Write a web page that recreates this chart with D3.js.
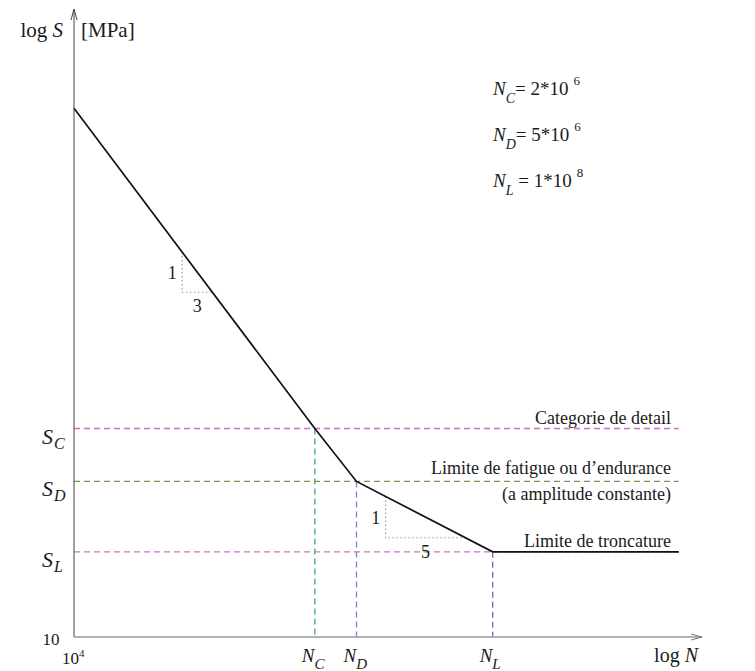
<!DOCTYPE html>
<html lang="fr">
<head>
    <meta charset="UTF-8">
    <title>Courbe S-N</title>
    <script src="https://d3js.org/d3.v7.min.js"></script>
    <style>
        body { margin: 0; background: #fff; }
        svg { display: block; font-family: "Liberation Serif", "DejaVu Serif", serif; }
        text { font-family: "Liberation Serif", "DejaVu Serif", serif; fill: #1a1a1a; }
        .it { font-style: italic; }
    </style>
</head>
<body>
    <svg id="chart"></svg>

    <script>
        // points de la courbe (N, S)
        const curveN = [1e4, 2e6, 5e6, 1e8, 6e9];
        const curveS = [185, 31.6, 23.6, 16, 16];

        // niveaux caracteristiques
        const levelKeys = ["C", "D", "L"];
        const levelN = [2e6, 5e6, 1e8];
        const levelS = [31.6, 23.6, 16];
        const legendMant = ["2", "5", "1"];
        const legendPow = ["6", "6", "8"];

        // pentes
        const slopeFrom = [1.08e5, 9.5e6];
        const slopeTo = [2.1e5, 5.5e7];
        const slopeRun = ["3", "5"];

        const nMin = 1e4, nMax = 1e10, nEnd = 6e9;
        const sMin = 10, sMax = 320;

        const width = 755, height = 671;

        const x = d3.scaleLog().domain([nMin, nMax]).range([74, 702]);
        const y = d3.scaleLog().domain([sMin, sMax]).range([637, 9]);

        const hColors = ["#d270c2", "#7c955e", "#c47cc2"];
        const vColors = ["#45aa72", "#7a82d6", "#8660b8"];

        const svg = d3.select("#chart")
            .attr("width", width)
            .attr("height", height);

        // interpolation log-log sur la polyligne (pour les triangles)
        function sAt(n) {
            for (let i = 0; i < curveN.length - 1; i++) {
                if (n >= curveN[i] && n <= curveN[i + 1]) {
                    const t = Math.log(n / curveN[i]) / Math.log(curveN[i + 1] / curveN[i]);
                    return Math.exp(Math.log(curveS[i]) + t * Math.log(curveS[i + 1] / curveS[i]));
                }
            }
            return curveS[curveS.length - 1];
        }

        // lignes pointillees horizontales
        svg.selectAll(".hline")
            .data(levelS)
            .join("line")
            .attr("x1", x(nMin))
            .attr("x2", x(nEnd))
            .attr("y1", d => y(d))
            .attr("y2", d => y(d))
            .attr("stroke", (d, i) => hColors[i])
            .attr("stroke-width", 1.3)
            .attr("stroke-dasharray", "6,4");

        // lignes pointillees verticales
        svg.selectAll(".vline")
            .data(levelN)
            .join("line")
            .attr("x1", d => x(d))
            .attr("x2", d => x(d))
            .attr("y1", (d, i) => y(levelS[i]))
            .attr("y2", y(sMin))
            .attr("stroke", (d, i) => vColors[i])
            .attr("stroke-width", 1.3)
            .attr("stroke-dasharray", "6,4");

        // triangles de pente
        slopeFrom.forEach((n0, i) => {
            const n1 = slopeTo[i];
            const x0 = x(n0), x1 = x(n1);
            const y0 = y(sAt(n0)), y1 = y(sAt(n1));
            svg.append("path")
                .attr("d", `M${x0},${y0}V${y1}H${x1}`)
                .attr("fill", "none")
                .attr("stroke", "#7aaa90")
                .attr("stroke-width", 1.1)
                .attr("stroke-dasharray", "1.5,2.5");
            svg.append("text")
                .attr("x", x0 - 10)
                .attr("y", (y0 + y1) / 2 + 7)
                .attr("text-anchor", "middle")
                .style("font-size", "18px")
                .text("1");
            svg.append("text")
                .attr("x", (x0 + x1) / 2)
                .attr("y", y1 + 20)
                .attr("text-anchor", "middle")
                .style("font-size", "18px")
                .text(slopeRun[i]);
        });

        // courbe
        const line = d3.line()
            .x((d, i) => x(curveN[i]))
            .y(d => y(d));
        svg.append("path")
            .datum(curveS)
            .attr("d", line)
            .attr("fill", "none")
            .attr("stroke", "#111")
            .attr("stroke-width", 1.7);

        // axes avec fleches
        const x0 = x(nMin), yBot = y(sMin);
        svg.append("line")
            .attr("x1", x0).attr("x2", x0)
            .attr("y1", yBot).attr("y2", y(sMax))
            .attr("stroke", "#444").attr("stroke-width", 1);
        svg.append("path")
            .attr("d", `M${x0 - 3},${y(sMax) + 11}L${x0},${y(sMax)}L${x0 + 3},${y(sMax) + 11}`)
            .attr("fill", "none").attr("stroke", "#444");
        svg.append("line")
            .attr("x1", x0).attr("x2", x(nMax))
            .attr("y1", yBot).attr("y2", yBot)
            .attr("stroke", "#999").attr("stroke-width", 1.3);
        svg.append("path")
            .attr("d", `M${x(nMax) - 11},${yBot - 3}L${x(nMax)},${yBot}L${x(nMax) - 11},${yBot + 3}`)
            .attr("fill", "none").attr("stroke", "#777");

        // titre axe y
        const yt = svg.append("text")
            .attr("x", 63).attr("y", 37)
            .attr("text-anchor", "end")
            .style("font-size", "21px");
        yt.append("tspan").text("log ");
        yt.append("tspan").attr("class", "it").text("S");
        svg.append("text")
            .attr("x", 81).attr("y", 37)
            .style("font-size", "21px")
            .text("[MPa]");

        // titre axe x
        const xt = svg.append("text")
            .attr("x", 698).attr("y", 662)
            .attr("text-anchor", "end")
            .style("font-size", "20px");
        xt.append("tspan").text("log ");
        xt.append("tspan").attr("class", "it").text("N");

        // graduations min
        svg.append("text")
            .attr("x", 51).attr("y", 645)
            .attr("text-anchor", "middle")
            .style("font-size", "17px")
            .text("10");
        const t4 = svg.append("text")
            .attr("x", 62).attr("y", 664)
            .style("font-size", "17px");
        t4.append("tspan").text("10");
        t4.append("tspan").attr("dy", -7).style("font-size", "11px").text("4");

        // etiquettes S
        levelS.forEach((s, i) => {
            const t = svg.append("text")
                .attr("x", 42).attr("y", y(s) + 15)
                .attr("class", "it")
                .style("font-size", "22px");
            t.append("tspan").text("S");
            t.append("tspan").attr("dy", 5).attr("dx", 1).style("font-size", "16px").text(levelKeys[i]);
        });

        // etiquettes N
        levelN.forEach((n, i) => {
            const t = svg.append("text")
                .attr("x", x(n) - 13).attr("y", 662)
                .attr("class", "it")
                .style("font-size", "19px");
            t.append("tspan").text("N");
            t.append("tspan").attr("dy", 7).style("font-size", "15px").text(levelKeys[i]);
        });

        // legende
        levelKeys.forEach((k, i) => {
            const by = 95 + i * 46;
            const t = svg.append("text")
                .attr("x", 493).attr("y", by)
                .style("font-size", "19px");
            t.append("tspan").attr("class", "it").text("N");
            t.append("tspan").attr("class", "it").attr("dy", 8).style("font-size", "14px").text(k);
            t.append("tspan").attr("dy", -8).text(k === "L" ? " = " : "= ");
            t.append("tspan").text(legendMant[i] + "*10");
            t.append("tspan").attr("dy", -10).attr("dx", 5).style("font-size", "13px").text(legendPow[i]);
        });

        // textes a droite
        const rightText = [
            { label: "Categorie de detail", s: levelS[0], off: -5 },
            { label: "Limite de fatigue ou d\u2019endurance", s: levelS[1], off: -7 },
            { label: "(a amplitude constante)", s: levelS[1], off: 19 },
            { label: "Limite de troncature", s: levelS[2], off: -5 }
        ];
        svg.selectAll(".rlab")
            .data(rightText)
            .join("text")
            .attr("class", "rlab")
            .attr("x", 671)
            .attr("y", d => y(d.s) + d.off)
            .attr("text-anchor", "end")
            .style("font-size", "18px")
            .text(d => d.label);
    </script>
</body>
</html>
